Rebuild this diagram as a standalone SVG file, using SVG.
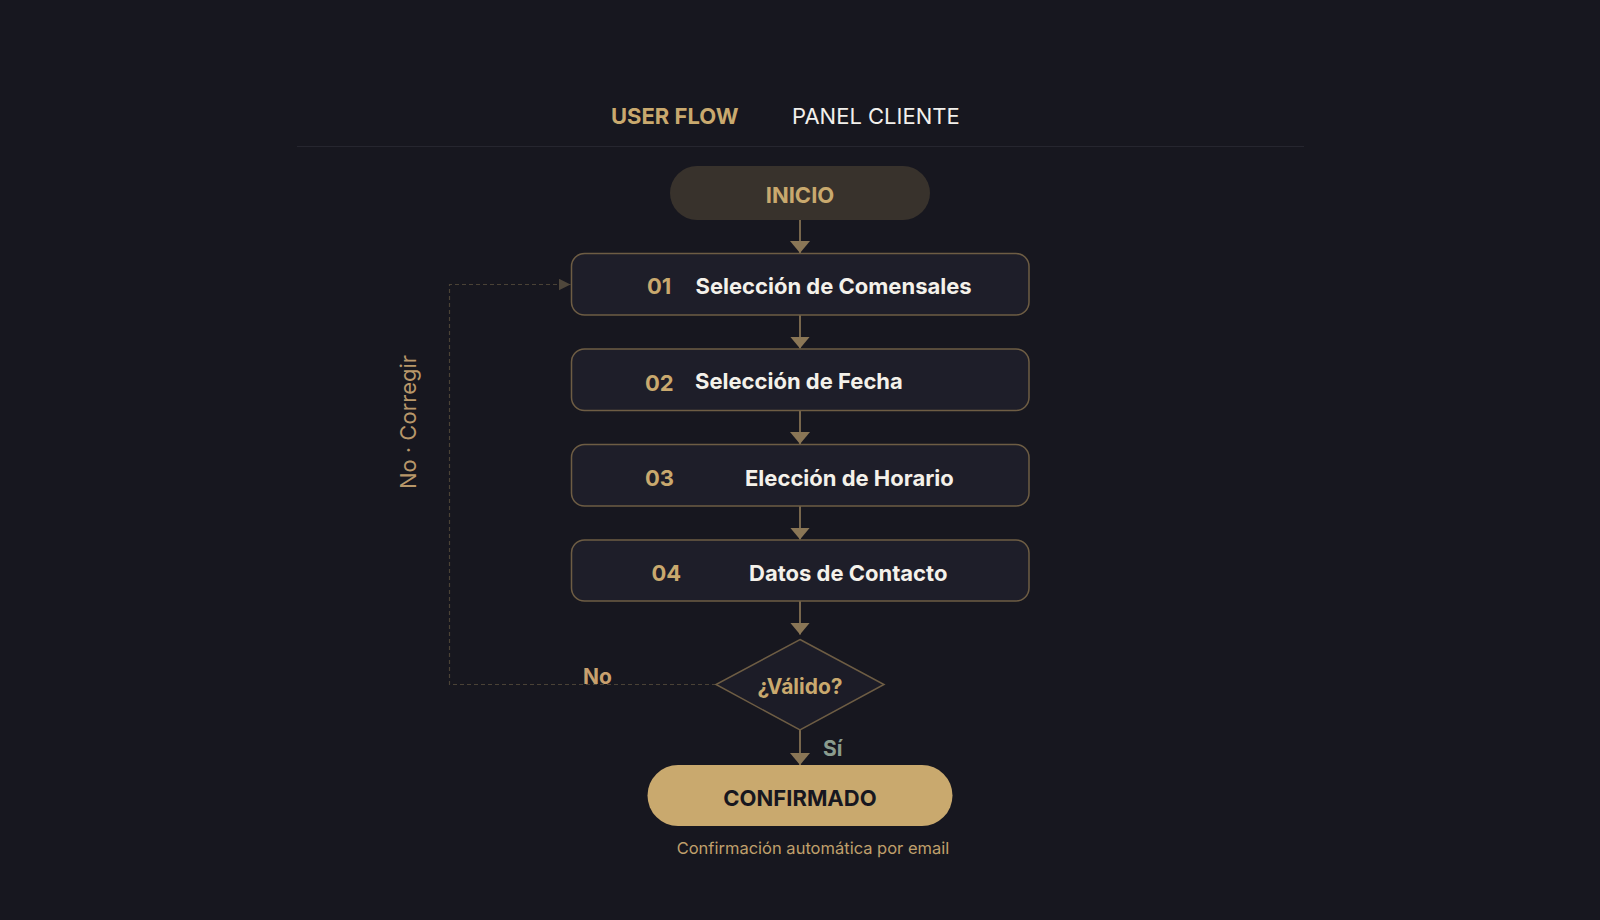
<svg xmlns="http://www.w3.org/2000/svg" width="1600" height="920" viewBox="0 0 1600 920">
  <defs>
    <style>
      .box { fill: #1e1e29; stroke: #6e5d44; stroke-width: 1.5; }
      .num { font-family: Inter, "Noto Sans", sans-serif; font-weight: 700; font-size: 22px; fill: #c9a96e; }
      .ttl { font-family: Inter, "Noto Sans", sans-serif; font-weight: 700; font-size: 22px; fill: #f4f1ea; }
      .flow { stroke: #77664c; stroke-width: 2; fill: none; }
      .loop { stroke: #4a4236; stroke-width: 1.2; fill: none; stroke-dasharray: 4 3; }
      .lbl { font-family: Inter, "Noto Sans", sans-serif; font-weight: 700; font-size: 21px; }
    </style>
    <marker id="ah" viewBox="0 0 12 20" refX="12" refY="10" markerWidth="12" markerHeight="20" markerUnits="userSpaceOnUse" orient="auto">
      <path d="M0,0 L12,10 L0,20 Z" fill="#8a7656"/>
    </marker>
    <marker id="ahd" viewBox="0 0 12 12" refX="12" refY="6" markerWidth="12" markerHeight="12" markerUnits="userSpaceOnUse" orient="auto">
      <path d="M0,0 L12,6 L0,12 Z" fill="#4f473b"/>
    </marker>
  </defs>

  <rect x="0" y="0" width="1600" height="920" fill="#17171f"/>

  <g id="header">
    <text x="611" y="124" font-family="Inter, 'Noto Sans', sans-serif" font-weight="700" font-size="22" fill="#c9a96e">USER FLOW</text>
    <text x="792" y="124" font-family="Inter, 'Noto Sans', sans-serif" font-weight="400" font-size="22" fill="#f2f0ec">PANEL CLIENTE</text>
    <line x1="297" y1="146.5" x2="1304" y2="146.5" stroke="#26262f" stroke-width="1.2"/>
  </g>

  <g id="connectors">
    <line class="flow" x1="800" y1="220" x2="800" y2="253" marker-end="url(#ah)"/>
    <line class="flow" x1="800" y1="315" x2="800" y2="348.5" marker-end="url(#ah)"/>
    <line class="flow" x1="800" y1="410.5" x2="800" y2="444" marker-end="url(#ah)"/>
    <line class="flow" x1="800" y1="505.5" x2="800" y2="539.5" marker-end="url(#ah)"/>
    <line class="flow" x1="800" y1="601" x2="800" y2="634.5" marker-end="url(#ah)"/>
    <line class="flow" x1="800" y1="730" x2="800" y2="765" marker-end="url(#ah)"/>
    <polyline class="loop" points="716,684.5 449.5,684.5 449.5,284.5 570.5,284.5" marker-end="url(#ahd)"/>
  </g>

  <g id="inicio">
    <rect x="670" y="166" width="260" height="54" rx="27" fill="#38322c"/>
    <text x="800" y="203" text-anchor="middle" font-family="Inter, 'Noto Sans', sans-serif" font-weight="700" font-size="22" fill="#c9a96e">INICIO</text>
  </g>

  <g id="step01">
    <rect class="box" x="571.5" y="253.5" width="457.5" height="61.5" rx="13"/>
    <text class="num" x="647" y="294">01</text>
    <text class="ttl" x="695.5" y="294">Selección de Comensales</text>
  </g>

  <g id="step02">
    <rect class="box" x="571.5" y="349" width="457.5" height="61.5" rx="13"/>
    <text class="num" x="645" y="390.5">02</text>
    <text class="ttl" x="695" y="388.5">Selección de Fecha</text>
  </g>

  <g id="step03">
    <rect class="box" x="571.5" y="444.5" width="457.5" height="61.5" rx="13"/>
    <text class="num" x="645" y="485.5">03</text>
    <text class="ttl" x="745" y="485.5">Elección de Horario</text>
  </g>

  <g id="step04">
    <rect class="box" x="571.5" y="540" width="457.5" height="61" rx="13"/>
    <text class="num" x="651.5" y="581">04</text>
    <text class="ttl" x="749" y="581">Datos de Contacto</text>
  </g>

  <g id="valido">
    <polygon points="800,639.5 884,684.5 800,730 716,684.5" fill="#1c1c27" stroke="#6e5d44" stroke-width="1.5"/>
    <text x="800" y="694" text-anchor="middle" class="lbl" font-size="22" fill="#c9a96e">¿Válido?</text>
  </g>

  <g id="labels">
    <text x="583" y="684" class="lbl" fill="#c8a06e">No</text>
    <text x="823" y="756" class="lbl" fill="#8a9c8e">Sí</text>
    <text transform="translate(416,422) rotate(-90)" text-anchor="middle" font-family="Inter, 'Noto Sans', sans-serif" font-weight="400" font-size="22" fill="#b8976a">No · Corregir</text>
  </g>

  <g id="confirmado">
    <rect x="647.5" y="765" width="305" height="61" rx="30.5" fill="#c9a96e"/>
    <text x="800" y="806" text-anchor="middle" font-family="Inter, 'Noto Sans', sans-serif" font-weight="700" font-size="22" fill="#17171f">CONFIRMADO</text>
    <text x="813" y="854" text-anchor="middle" font-family="Inter, 'Noto Sans', sans-serif" font-weight="400" font-size="16.5" fill="#c0a06c">Confirmación automática por email</text>
  </g>
</svg>
